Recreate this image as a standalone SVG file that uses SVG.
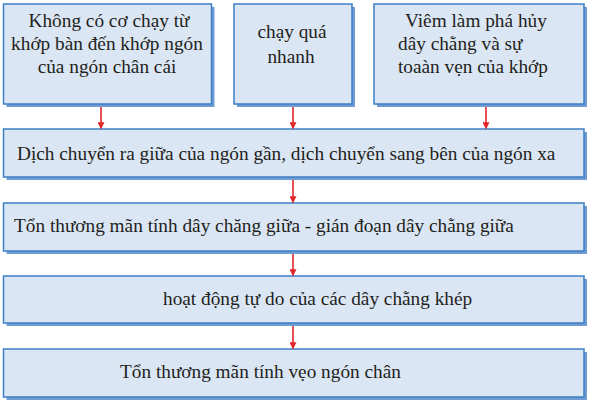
<svg xmlns="http://www.w3.org/2000/svg" width="589" height="406" viewBox="0 0 589 406">
<defs>
<style>
.sh{fill:#6f9dd3;}
.bx{fill:#dbe6f4;stroke:#3c7fc5;stroke-width:1.5;}
.t{font-family:"Liberation Serif","Times New Roman",serif;font-size:19.3px;fill:#231f20;}
.c{text-anchor:middle;}
.ar{stroke:#e2252b;stroke-width:1.6;fill:none;}
</style>
<marker id="ah" viewBox="0 0 10 10" refX="9" refY="5" markerWidth="7" markerHeight="7" markerUnits="userSpaceOnUse" orient="auto">
<path d="M0,0 L10,5 L0,10 Z" fill="#e2252b"/>
</marker>
</defs>
<rect width="589" height="406" fill="#ffffff"/>
<g id="n1">
<rect class="sh" x="6.5" y="7" width="208" height="100"/>
<rect class="bx" x="3.5" y="4" width="208" height="100"/>
<text class="t c" x="109" y="27">Không có cơ chạy từ</text>
<text class="t c" x="107" y="50">khớp bàn đến khớp ngón</text>
<text class="t c" x="107" y="73">của ngón chân cái</text>
</g>
<g id="n2">
<rect class="sh" x="237" y="7" width="118" height="100"/>
<rect class="bx" x="234" y="4" width="118" height="100"/>
<text class="t c" x="292" y="38">chạy quá</text>
<text class="t c" x="291" y="63">nhanh</text>
</g>
<g id="n3">
<rect class="sh" x="377" y="7" width="210" height="100"/>
<rect class="bx" x="374" y="4" width="210" height="100"/>
<text class="t" x="405" y="27">Viêm làm phá hủy</text>
<text class="t" x="398" y="50">dây chằng và sự</text>
<text class="t" x="398" y="73">toaàn vẹn của khớp</text>
</g>
<g id="n4">
<rect class="sh" x="6.5" y="132" width="580.5" height="48"/>
<rect class="bx" x="3.5" y="129" width="580.5" height="48"/>
<text class="t" x="17" y="160">Dịch chuyển ra giữa của ngón gần, dịch chuyển sang bên của ngón xa</text>
</g>
<g id="n5">
<rect class="sh" x="6.5" y="206" width="580.5" height="48"/>
<rect class="bx" x="3.5" y="203" width="580.5" height="48"/>
<text class="t" x="14" y="232">Tổn thương mãn tính dây chăng giữa - gián đoạn dây chằng giữa</text>
</g>
<g id="n6">
<rect class="sh" x="6.5" y="279" width="580.5" height="47"/>
<rect class="bx" x="3.5" y="276" width="580.5" height="47"/>
<text class="t" x="163" y="305">hoạt động tự do của các dây chằng khép</text>
</g>
<g id="n7">
<rect class="sh" x="6.5" y="352" width="580.5" height="48"/>
<rect class="bx" x="3.5" y="349" width="580.5" height="48"/>
<text class="t" x="120" y="378">Tổn thương mãn tính vẹo ngón chân</text>
</g>
<g id="connectors">
<line class="ar" x1="101" y1="107" x2="101" y2="128.5" marker-end="url(#ah)"/>
<line class="ar" x1="293" y1="107" x2="293" y2="128.5" marker-end="url(#ah)"/>
<line class="ar" x1="486" y1="107" x2="486" y2="128.5" marker-end="url(#ah)"/>
<line class="ar" x1="293" y1="180" x2="293" y2="202.5" marker-end="url(#ah)"/>
<line class="ar" x1="293" y1="254" x2="293" y2="275.5" marker-end="url(#ah)"/>
<line class="ar" x1="293" y1="326" x2="293" y2="348.5" marker-end="url(#ah)"/>
</g>
</svg>
